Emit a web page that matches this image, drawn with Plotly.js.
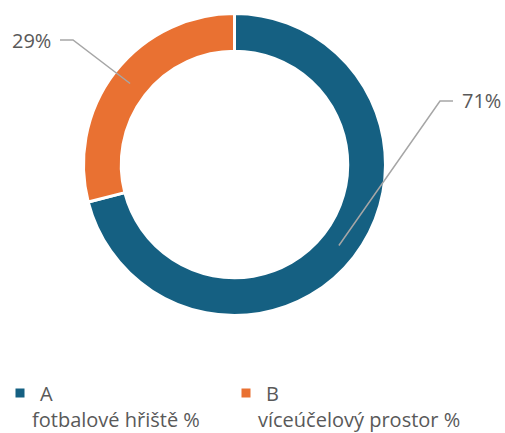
<!DOCTYPE html>
<html>
<head>
<meta charset="utf-8">
<script src="https://cdn.plot.ly/plotly-3.0.1.min.js"></script>
<style>
html,body{margin:0;padding:0;background:#fff;}
#chart{width:505px;height:433px;}
</style>
</head>
<body>
<div id="chart"></div>
<script>
// ---- data ----
var codes = ["A", "B"];
var descriptions = ["fotbalové hřiště %", "víceúčelový prostor %"];
var values = [71, 29];
var colors = ["#156082", "#E97132"];

// ---- layout constants (pixels) ----
var W = 505, H = 433;
var cx = 234.5, cy = 164.5, rOut = 151, holeFrac = 0.75;
var rMid = rOut * (1 + holeFrac) / 2;
var elbows = [{x: 440, y: 101, dir: 1}, {x: 73, y: 40, dir: -1}];
var tail = 13, textGap = 7;
var textColor = "#595959";
var fontFam = "'Open Sans', 'Noto Sans', sans-serif";

function px(x) { return x / W; }
function py(y) { return 1 - y / H; }

var total = values.reduce(function (a, b) { return a + b; }, 0);
var shapes = [], annotations = [];
var cum = 0;
values.forEach(function (v, i) {
  var midFrac = (cum + v / 2) / total;
  cum += v;
  var ang = midFrac * 2 * Math.PI;
  var sx = cx + rMid * Math.sin(ang);
  var sy = cy - rMid * Math.cos(ang);
  var e = elbows[i];
  var ex2 = e.x + e.dir * tail;
  shapes.push({
    type: "path", xref: "paper", yref: "paper",
    path: "M" + px(sx) + "," + py(sy) + " L" + px(e.x) + "," + py(e.y) + " L" + px(ex2) + "," + py(e.y),
    line: {color: "#A6A6A6", width: 1.5}
  });
  annotations.push({
    xref: "paper", yref: "paper",
    x: px(ex2 + e.dir * textGap), y: py(e.y),
    xanchor: e.dir > 0 ? "left" : "right", yanchor: "middle",
    text: Math.round(v / total * 100) + "%",
    showarrow: false,
    font: {family: fontFam, size: 20, color: textColor}
  });
});

// description lines under legend entries
var descX = [30, 256];
descriptions.forEach(function (d, i) {
  annotations.push({
    xref: "paper", yref: "paper",
    x: px(descX[i]), y: py(419),
    xanchor: "left", yanchor: "middle",
    text: d, showarrow: false,
    font: {family: fontFam, size: 20, color: textColor}
  });
});

var trace = {
  type: "pie",
  labels: codes,
  values: values,
  sort: false,
  direction: "clockwise",
  rotation: 0,
  hole: holeFrac,
  textinfo: "none",
  hoverinfo: "label+percent",
  marker: {colors: colors, line: {color: "#ffffff", width: 3}},
  domain: {x: [px(cx - rOut), px(cx + rOut)], y: [py(cy + rOut), py(cy - rOut)]}
};

var layout = {
  width: W, height: H,
  margin: {l: 0, r: 0, t: 0, b: 0},
  paper_bgcolor: "#ffffff",
  showlegend: true,
  legend: {
    orientation: "h", x: 0, xanchor: "left", y: py(393), yanchor: "middle",
    entrywidth: 181, entrywidthmode: "pixels",
    font: {family: fontFam, size: 20, color: textColor},
    itemclick: false, itemdoubleclick: false
  },
  shapes: shapes,
  annotations: annotations
};

Plotly.newPlot("chart", [trace], layout, {staticPlot: true, displayModeBar: false});
</script>
</body>
</html>
